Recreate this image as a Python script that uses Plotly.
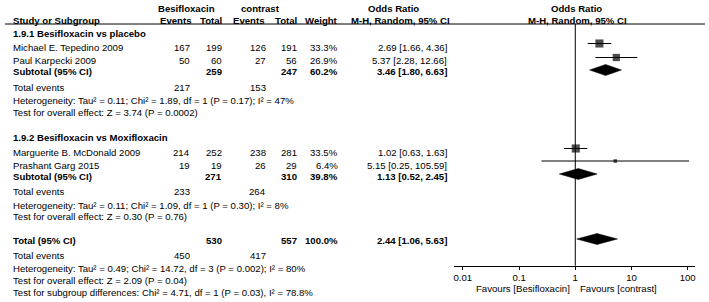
import math
import plotly.graph_objects as go

W, H = 709, 302

# ---------------- data ----------------
group_titles = ["1.9.1 Besifloxacin vs placebo", "1.9.2 Besifloxacin vs Moxifloxacin"]
studies = ["Michael E. Tepedino 2009", "Paul Karpecki 2009",
           "Marguerite B. McDonald 2009", "Prashant Garg 2015"]
study_group = [0, 0, 1, 1]
besi_events = [167, 50, 214, 19]
besi_total = [199, 60, 252, 19]
con_events = [126, 27, 238, 26]
con_total = [191, 56, 281, 29]
weights = [33.3, 26.9, 33.5, 6.4]
or_est = [2.69, 5.37, 1.02, 5.15]
or_lo = [1.66, 2.28, 0.63, 0.25]
or_hi = [4.36, 12.66, 1.63, 105.59]

sub_besi_total = [259, 271]
sub_con_total = [247, 310]
sub_weight = [60.2, 39.8]
sub_or = [3.46, 1.13]
sub_lo = [1.80, 0.52]
sub_hi = [6.63, 2.45]
sub_besi_events = [217, 233]
sub_con_events = [153, 264]
sub_het = ["Heterogeneity: Tau² = 0.11; Chi² = 1.89, df = 1 (P = 0.17); I² = 47%",
           "Heterogeneity: Tau² = 0.11; Chi² = 1.09, df = 1 (P = 0.30); I² = 8%"]
sub_test = ["Test for overall effect: Z = 3.74 (P = 0.0002)",
            "Test for overall effect: Z = 0.30 (P = 0.76)"]

tot_besi_total = 530
tot_con_total = 557
tot_weight = 100.0
tot_or, tot_lo, tot_hi = 2.44, 1.06, 5.63
tot_besi_events = 450
tot_con_events = 417
tot_lines = ["Heterogeneity: Tau² = 0.49; Chi² = 14.72, df = 3 (P = 0.002); I² = 80%",
             "Test for overall effect: Z = 2.09 (P = 0.04)",
             "Test for subgroup differences: Chi² = 4.71, df = 1 (P = 0.03), I² = 78.8%"]

tick_vals = [0.01, 0.1, 1, 10, 100]
tick_text = ["0.01", "0.1", "1", "10", "100"]
fav_left = "Favours [Besifloxacin]"
fav_right = "Favours [contrast]"

# ---------------- layout positions (pixels) ----------------
FONT = "Arial, Liberation Sans, sans-serif"
FS = 9.6
X_NAME = 12.5
X_BE, X_BT, X_CE, X_CT, X_W, X_OR = 190, 222, 265.5, 296.5, 338, 446.5
X_PLOT_C = 576.5
AXIS_Y = 265.7

study_text_y = [47.5, 60.5, 152, 165]
study_mark_y = [43.5, 57.5, 148.5, 161]
group_title_y = [33.5, 137]
sub_text_y = [71.5, 176.5]
sub_mark_y = [70, 174]
sub_events_y = [87, 191]
sub_het_y = [100, 205.5]
sub_test_y = [112, 216.5]
tot_text_y = 240.5
tot_mark_y = 239
tot_events_y = 255.5
tot_lines_y = [268.5, 280.5, 292]

anns = []


def ann(x, y, text, anchor="left", bold=False):
    if bold:
        text = "<b>" + text + "</b>"
    anns.append(dict(x=x / W, y=y, xref="paper", yref="y", text=text,
                     xanchor=anchor, yanchor="middle", showarrow=False,
                     borderpad=0, borderwidth=0,
                     font=dict(family=FONT, size=FS, color="black")))


def fmt_or(o, l, h):
    return f"{o:.2f} [{l:.2f}, {h:.2f}]"


# headers
ann(187, 8, "Besifloxacin", "center", True)
ann(260, 8, "contrast", "center", True)
ann(393, 8, "Odds Ratio", "center", True)
ann(X_PLOT_C, 8, "Odds Ratio", "center", True)
ann(X_NAME, 20.5, "Study or Subgroup", "left", True)
ann(X_BE + 0.7, 20.5, "Events", "right", True)
ann(X_BT + 0.3, 20.5, "Total", "right", True)
ann(X_CE - 1.5, 20.5, "Events", "right", True)
ann(X_CT + 0.2, 20.5, "Total", "right", True)
ann(X_W + 0.3, 20.5, "Weight", "right", True)
ann(400, 20.5, "M-H, Random, 95% CI", "center", True)
ann(X_PLOT_C + 0.5, 20.5, "M-H, Random, 95% CI", "center", True)

for g in range(2):
    ann(X_NAME, group_title_y[g], group_titles[g], "left", True)
for i, s in enumerate(studies):
    y = study_text_y[i]
    ann(X_NAME, y, s)
    ann(X_BE, y, str(besi_events[i]), "right")
    ann(X_BT, y, str(besi_total[i]), "right")
    ann(X_CE, y, str(con_events[i]), "right")
    ann(X_CT, y, str(con_total[i]), "right")
    ann(X_W, y, f"{weights[i]:.1f}%", "right")
    ann(X_OR, y, fmt_or(or_est[i], or_lo[i], or_hi[i]), "right")
for g in range(2):
    y = sub_text_y[g]
    ann(X_NAME, y, "Subtotal (95% CI)", "left", True)
    ann(X_BT, y, str(sub_besi_total[g]), "right", True)
    ann(X_CT, y, str(sub_con_total[g]), "right", True)
    ann(X_W, y, f"{sub_weight[g]:.1f}%", "right", True)
    ann(X_OR, y, fmt_or(sub_or[g], sub_lo[g], sub_hi[g]), "right", True)
    ann(X_NAME, sub_events_y[g], "Total events")
    ann(X_BE, sub_events_y[g], str(sub_besi_events[g]), "right")
    ann(X_CE, sub_events_y[g], str(sub_con_events[g]), "right")
    ann(X_NAME, sub_het_y[g], sub_het[g])
    ann(X_NAME, sub_test_y[g], sub_test[g])

ann(X_NAME, tot_text_y, "Total (95% CI)", "left", True)
ann(X_BT, tot_text_y, str(tot_besi_total), "right", True)
ann(X_CT, tot_text_y, str(tot_con_total), "right", True)
ann(X_W, tot_text_y, f"{tot_weight:.1f}%", "right", True)
ann(X_OR, tot_text_y, fmt_or(tot_or, tot_lo, tot_hi), "right", True)
ann(X_NAME, tot_events_y, "Total events")
ann(X_BE, tot_events_y, str(tot_besi_events), "right")
ann(X_CE, tot_events_y, str(tot_con_events), "right")
for t, y in zip(tot_lines, tot_lines_y):
    ann(X_NAME, y, t)

ann(570, 288, fav_left, "right")
ann(580, 288, fav_right, "left")

# ---------------- traces ----------------
fig = go.Figure()

# line of no effect
fig.add_trace(go.Scatter(x=[1, 1], y=[24, AXIS_Y], mode="lines",
                         line=dict(color="black", width=1), hoverinfo="skip"))

# whiskers
wx, wy = [], []
for i in range(len(studies)):
    wx += [or_lo[i], or_hi[i], None]
    wy += [study_mark_y[i], study_mark_y[i], None]
fig.add_trace(go.Scatter(x=wx, y=wy, mode="lines",
                         line=dict(color="black", width=1), hoverinfo="skip"))

# squares
fig.add_trace(go.Scatter(x=or_est, y=study_mark_y, mode="markers",
                         marker=dict(symbol="square", color="black",
                                     size=[1.4 * math.sqrt(w) for w in weights],
                                     line=dict(width=0)),
                         hoverinfo="skip"))

# diamonds
HALF = 5.5
dia = [(sub_or[g], sub_lo[g], sub_hi[g], sub_mark_y[g]) for g in range(2)]
dia.append((tot_or, tot_lo, tot_hi, tot_mark_y))
for o, l, h, y in dia:
    fig.add_trace(go.Scatter(x=[l, o, h, o, l], y=[y, y - HALF, y, y + HALF, y],
                             mode="lines", fill="toself", fillcolor="black",
                             line=dict(color="black", width=0.5), hoverinfo="skip"))

axis_common = dict(type="log", domain=[454 / W, 695 / W], range=[-2.158, 2.13],
                   anchor="free", position=(H - AXIS_Y) / H,
                   tickvals=tick_vals, tickcolor="black", tickwidth=1, ticklen=3,
                   showgrid=False, zeroline=False, fixedrange=True)

fig.update_layout(
    width=W, height=H,
    margin=dict(l=0, r=0, t=0, b=0),
    paper_bgcolor="white", plot_bgcolor="white",
    showlegend=False,
    annotations=anns,
    shapes=[dict(type="line", xref="paper", yref="y", x0=5 / W, x1=705 / W,
                 y0=24, y1=24, line=dict(color="black", width=1))],
    xaxis=dict(**axis_common, showline=True, linecolor="black", linewidth=1,
               ticks="outside", ticktext=tick_text,
               tickfont=dict(family=FONT, size=FS, color="black")),
    xaxis2=dict(**axis_common, overlaying="x", showline=False,
                ticks="inside", showticklabels=False),
    yaxis=dict(range=[H, 0], domain=[0, 1], visible=False,
               showgrid=False, zeroline=False, fixedrange=True),
)

fig.write_html(
    "out.html",
    config={"displayModeBar": False},
    post_script="document.body.style.margin='0px';document.body.style.overflow='hidden';",
)
